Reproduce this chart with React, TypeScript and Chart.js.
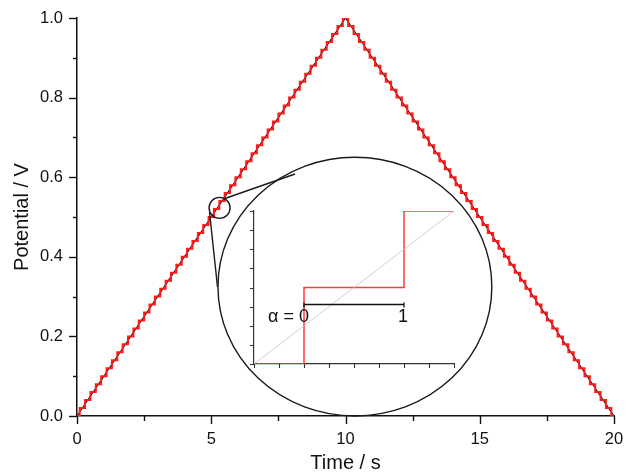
import React, { useEffect, useRef } from "react";
import { Chart, registerables } from "chart.js";

Chart.register(...registerables);

// Triangular potential sweep (vertices)
const sweepTimes = [0, 10, 20];
const sweepPotentials = [0, 1, 0];

// Staircase approximation: 20 mV steps, 0.2 s per step
const stepTime = 0.2;
const stepLevels = [
  0.0, 0.02, 0.04, 0.06, 0.08, 0.1, 0.12, 0.14, 0.16, 0.18,
  0.2, 0.22, 0.24, 0.26, 0.28, 0.3, 0.32, 0.34, 0.36, 0.38,
  0.4, 0.42, 0.44, 0.46, 0.48, 0.5, 0.52, 0.54, 0.56, 0.58,
  0.6, 0.62, 0.64, 0.66, 0.68, 0.7, 0.72, 0.74, 0.76, 0.78,
  0.8, 0.82, 0.84, 0.86, 0.88, 0.9, 0.92, 0.94, 0.96, 0.98,
  1.0,
];

// Axis tick settings
const timeRange = [0, 20];
const timeTickStep = 2.5;
const timeLabelEvery = 5;
const potentialRange = [0, 1];
const potentialTickStep = 0.1;

// Magnified view of a single step (x: fraction alpha of a step, y: step units)
const insetStepX = [-0.5, 0, 1, 1.5];
const insetStepY = [-0.5, 0.5, 1.5, 1.5];
const insetRampX = [-0.5, 1.5];
const insetRampY = [-0.5, 1.5];
const insetRange = [-0.5, 1.5];
const insetTickStep = 0.25;
const alphaMarks = [0, 1];

const FONT = "'Liberation Sans', Arial, sans-serif";

function buildStaircase() {
  const levels = [...stepLevels, ...stepLevels.slice(0, -1).reverse()];
  const pts = levels.map((v, k) => ({
    x: Math.max(timeRange[0], (k - 0.5) * stepTime),
    y: v,
  }));
  pts.push({ x: timeRange[1], y: levels[levels.length - 1] });
  return pts;
}

// keep the plot area fixed: no extra room for overhanging tick labels
function noOverhang(s: any) {
  s.paddingLeft = 0;
  s.paddingRight = 0;
  s.paddingTop = 0;
  s.paddingBottom = 0;
}

const mainTicksPlugin = {
  id: "mainTicks",
  afterDraw(chart: any) {
    const { ctx, chartArea } = chart;
    const xs = chart.scales.x;
    const ys = chart.scales.y;
    ctx.save();
    ctx.strokeStyle = "#111";
    ctx.lineWidth = 1.4;
    xs.ticks.forEach((t: any) => {
      const px = Math.round(xs.getPixelForValue(t.value)) + 0.5;
      const major = Math.abs(t.value / timeLabelEvery - Math.round(t.value / timeLabelEvery)) < 1e-6;
      ctx.beginPath();
      ctx.moveTo(px, chartArea.bottom);
      ctx.lineTo(px, chartArea.bottom + (major ? 8 : 5));
      ctx.stroke();
    });
    ys.ticks.forEach((t: any) => {
      const py = Math.round(ys.getPixelForValue(t.value)) + 0.5;
      const major = Math.round(t.value * 10) % 2 === 0;
      ctx.beginPath();
      ctx.moveTo(chartArea.left, py);
      ctx.lineTo(chartArea.left - (major ? 8 : 4), py);
      ctx.stroke();
    });
    ctx.restore();
  },
};

// Lens circle on the ramp, the enlarged view outline and the connecting lines
const magnifier = {
  lens: { t: 5.31, v: 0.523, r: 10.5 },
  view: { t: 10.35, v: 0.325, rt: 5.1, rv: 0.325 },
  upper: [ { t: 5.51, v: 0.5465 }, { t: 8.12, v: 0.608 } ],
  lower: [ { t: 4.935, v: 0.5126 }, { t: 5.233, v: 0.324 } ],
};

const magnifierPlugin = {
  id: "magnifier",
  afterDatasetsDraw(chart: any) {
    const { ctx } = chart;
    const xs = chart.scales.x;
    const ys = chart.scales.y;
    const X = (t: number) => xs.getPixelForValue(t);
    const Y = (v: number) => ys.getPixelForValue(v);
    ctx.save();
    ctx.strokeStyle = "#1a1a1a";
    ctx.lineWidth = 1.4;
    const m = magnifier;
    ctx.beginPath();
    ctx.arc(X(m.lens.t), Y(m.lens.v), m.lens.r, 0, Math.PI * 2);
    ctx.stroke();
    const cx = X(m.view.t);
    const cy = Y(m.view.v);
    const rx = X(m.view.t + m.view.rt) - cx;
    const ry = cy - Y(m.view.v + m.view.rv);
    ctx.beginPath();
    ctx.ellipse(cx, cy, rx, ry, 0, 0, Math.PI * 2);
    ctx.stroke();
    [m.upper, m.lower].forEach((seg) => {
      ctx.beginPath();
      ctx.moveTo(X(seg[0].t), Y(seg[0].v));
      ctx.lineTo(X(seg[1].t), Y(seg[1].v));
      ctx.stroke();
    });
    ctx.restore();
  },
};

const insetPlugin = {
  id: "insetTicks",
  afterDraw(chart: any) {
    const { ctx, chartArea } = chart;
    const xs = chart.scales.x;
    const ys = chart.scales.y;
    ctx.save();
    ctx.strokeStyle = "#333";
    ctx.lineWidth = 1.1;
    xs.ticks.forEach((t: any) => {
      const px = Math.round(xs.getPixelForValue(t.value)) + 0.5;
      ctx.beginPath();
      ctx.moveTo(px, chartArea.bottom);
      ctx.lineTo(px, chartArea.bottom + 4);
      ctx.stroke();
    });
    ys.ticks.forEach((t: any) => {
      const py = Math.round(ys.getPixelForValue(t.value)) + 0.5;
      ctx.beginPath();
      ctx.moveTo(chartArea.left, py);
      ctx.lineTo(chartArea.left - 4, py);
      ctx.stroke();
    });

    // alpha bar across one step
    const barY = Math.round(ys.getPixelForValue(0.28)) + 0.5;
    const x0 = xs.getPixelForValue(alphaMarks[0]);
    const x1 = xs.getPixelForValue(alphaMarks[1]);
    ctx.strokeStyle = "#111";
    ctx.lineWidth = 1.3;
    ctx.beginPath();
    ctx.moveTo(x0, barY);
    ctx.lineTo(x1, barY);
    ctx.moveTo(x0, barY - 2);
    ctx.lineTo(x0, barY + 3);
    ctx.moveTo(x1, barY - 2);
    ctx.lineTo(x1, barY + 3);
    ctx.stroke();

    ctx.fillStyle = "#111";
    ctx.font = `18px ${FONT}`;
    ctx.textBaseline = "middle";
    const labelY = ys.getPixelForValue(0.12);
    const zeroHalf = ctx.measureText(String(alphaMarks[0])).width / 2;
    ctx.textAlign = "right";
    ctx.fillText(`α = ${alphaMarks[0]}`, x0 + zeroHalf, labelY);
    ctx.textAlign = "center";
    ctx.fillText(String(alphaMarks[1]), x1 - 1, labelY);
    ctx.restore();
  },
};

export default function App() {
  const mainRef = useRef<HTMLCanvasElement>(null);
  const insetRef = useRef<HTMLCanvasElement>(null);

  useEffect(() => {
    const main = new Chart(mainRef.current as HTMLCanvasElement, {
      type: "line",
      data: {
        datasets: [
          {
            label: "staircase",
            data: buildStaircase(),
            borderColor: "#ff1a1a",
            borderWidth: 2,
            stepped: "before",
            pointRadius: 0,
            fill: false,
          },
          {
            label: "ramp",
            data: sweepTimes.map((t, i) => ({ x: t, y: sweepPotentials[i] })),
            borderColor: "#111",
            borderWidth: 1.2,
            pointRadius: 0,
            fill: false,
          },
        ],
      },
      options: {
        responsive: false,
        animation: false,
        layout: { padding: { top: 18, right: 12, left: 0, bottom: 0 } },
        plugins: { legend: { display: false }, tooltip: { enabled: false } },
        scales: {
          x: {
            type: "linear",
            min: timeRange[0],
            max: timeRange[1],
            afterFit: (s: any) => { s.height = 57; noOverhang(s); },
            border: { display: true, color: "#111", width: 1.5 },
            grid: { display: true, drawOnChartArea: false, drawTicks: false },
            ticks: {
              stepSize: timeTickStep,
              autoSkip: false,
              maxRotation: 0,
              padding: 14,
              color: "#111",
              font: { family: FONT, size: 16.5 },
              callback: (v: any) => (Math.abs(v % timeLabelEvery) < 1e-6 ? String(v) : ""),
            },
            title: {
              display: true,
              text: "Time / s",
              color: "#111",
              font: { family: FONT, size: 20, lineHeight: 1 },
              padding: { top: 0, bottom: 0 },
            },
          },
          y: {
            type: "linear",
            min: potentialRange[0],
            max: potentialRange[1],
            afterFit: (s: any) => { s.width = 77; noOverhang(s); },
            border: { display: true, color: "#111", width: 1.5 },
            grid: { display: true, drawOnChartArea: false, drawTicks: false },
            ticks: {
              stepSize: potentialTickStep,
              autoSkip: false,
              padding: 14,
              color: "#111",
              font: { family: FONT, size: 16.5 },
              callback: (v: any) => (Math.round(v * 10) % 2 === 0 ? Number(v).toFixed(1) : ""),
            },
            title: {
              display: true,
              text: "Potential / V",
              color: "#111",
              font: { family: FONT, size: 20, lineHeight: 1 },
              padding: { top: 12, bottom: 0 },
            },
          },
        },
      },
      plugins: [mainTicksPlugin, magnifierPlugin],
    } as any);

    const inset = new Chart(insetRef.current as HTMLCanvasElement, {
      type: "line",
      data: {
        datasets: [
          {
            label: "ramp",
            data: insetRampX.map((x, i) => ({ x, y: insetRampY[i] })),
            borderColor: "#c4c4d4",
            borderWidth: 0.8,
            pointRadius: 0,
          },
          {
            label: "step",
            data: insetStepX.map((x, i) => ({ x, y: insetStepY[i] })),
            borderColor: "#ff3b3b",
            borderWidth: 1.5,
            stepped: "before",
            pointRadius: 0,
          },
        ],
      },
      options: {
        responsive: false,
        animation: false,
        layout: { padding: { top: 11, right: 10, left: 10, bottom: 11 } },
        plugins: { legend: { display: false }, tooltip: { enabled: false } },
        scales: {
          x: {
            type: "linear",
            min: insetRange[0],
            max: insetRange[1],
            afterFit: (s: any) => { s.height = 0; noOverhang(s); },
            border: { display: true, color: "#333", width: 1.2 },
            grid: { display: true, drawOnChartArea: false, drawTicks: false },
            ticks: { display: false, stepSize: insetTickStep, autoSkip: false },
          },
          y: {
            type: "linear",
            min: insetRange[0],
            max: insetRange[1],
            afterFit: (s: any) => { s.width = 0; noOverhang(s); },
            border: { display: true, color: "#333", width: 1.2 },
            grid: { display: true, drawOnChartArea: false, drawTicks: false },
            ticks: { display: false, stepSize: insetTickStep, autoSkip: false },
          },
        },
      },
      plugins: [insetPlugin],
    } as any);

    return () => {
      main.destroy();
      inset.destroy();
    };
  }, []);

  return (
    <div style={{ position: "fixed", left: 0, top: 0, width: 626, height: 473, background: "#fff" }}>
      <canvas ref={mainRef} width={626} height={473} style={{ position: "absolute", left: 0, top: 0 }} />
      <canvas ref={insetRef} width={220} height={175} style={{ position: "absolute", left: 244, top: 200 }} />
    </div>
  );
}
